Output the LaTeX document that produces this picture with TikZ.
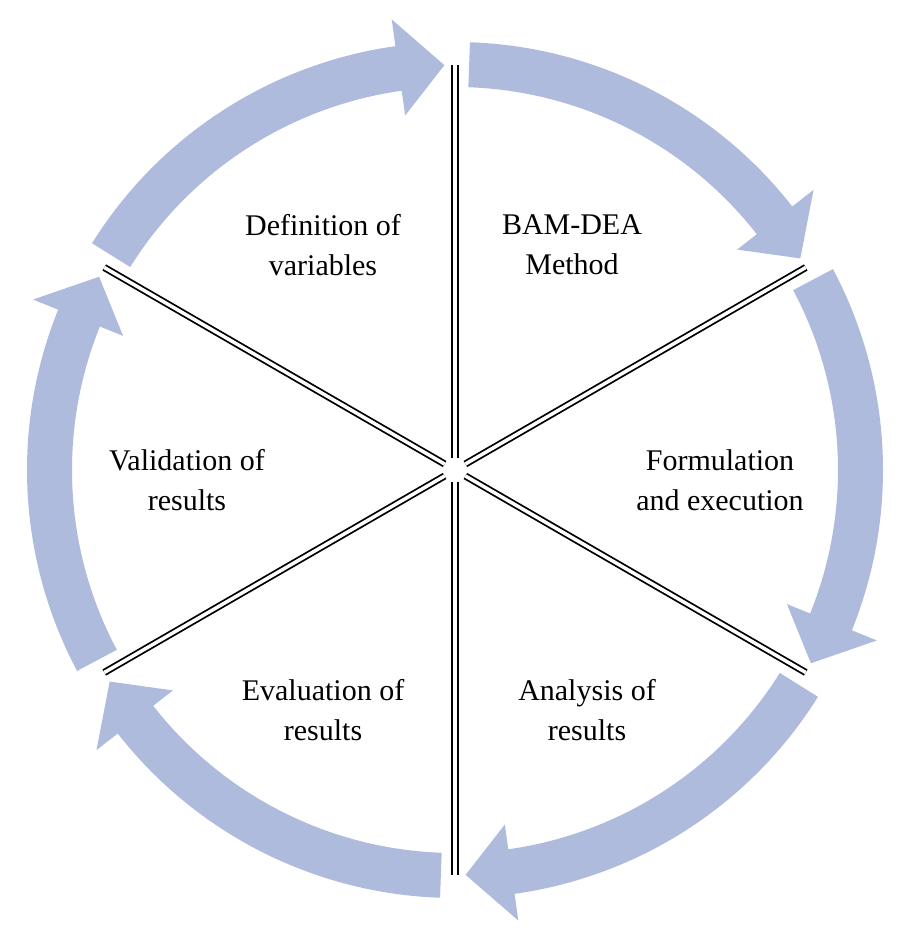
\documentclass[tikz,border=0pt]{standalone}
\usepackage{fontspec}
\setmainfont{Liberation Serif}
\definecolor{arr}{HTML}{AEBBDD}
\begin{document}
\begin{tikzpicture}[x=1pt,y=1pt,
  lbl/.style={align=center,font=\fontsize{30}{40}\selectfont},
  sep/.style={double=white,double distance=3.5pt,line width=1.8pt}]
\useasboundingbox (0,0) rectangle (902,942);
\begin{scope}[shift={(455,472)}]
\foreach \A in {90,30,-30,-90,-150,-210}{
  \pgfmathsetmacro{\a}{\A-2}
  \pgfmathsetmacro{\b}{\A-52}
  \pgfmathsetmacro{\t}{\A-58.5}
  \fill[arr] (\a:428) arc[start angle=\a,end angle=\b,radius=428]
    -- (\b:455) -- (\t:405) -- (\b:358) -- (\b:383)
    arc[start angle=\b,end angle=\a,radius=383] -- cycle;
  \draw[sep] (\A:12) -- (\A:405);
}
\end{scope}
\node[lbl] (d) at (323,697) {Definition of\\variables};
\node[lbl] (b) at (572,697) {BAM-DEA\\Method};
\node[lbl] (f) at (720,462) {Formulation\\and execution};
\node[lbl] (an) at (587,232) {Analysis of\\results};
\node[lbl] (e) at (323,232) {Evaluation of\\results};
\node[lbl] (v) at (187,462) {Validation of\\results};
\end{tikzpicture}
\end{document}
